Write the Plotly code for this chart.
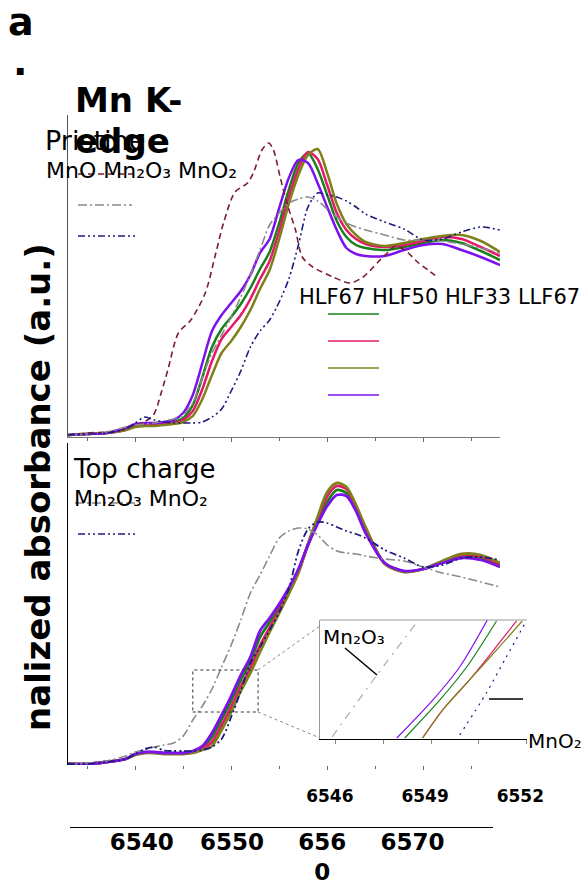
import plotly.graph_objects as go

W, H = 582, 881
FONT = "DejaVu Sans"

# ---------------- data (energy in eV, normalized absorbance) ----------------
energy = [6533, 6535, 6537, 6539, 6540, 6541, 6542, 6543, 6544, 6545, 6546, 6547,
          6548, 6549, 6550, 6551, 6552, 6553, 6554, 6555, 6556, 6557, 6558, 6559,
          6560, 6561, 6562, 6563, 6564, 6566, 6568, 6570, 6572, 6574, 6576, 6578]

# Pristine
pristine_HLF67 = [0.01, 0.015, 0.02, 0.04, 0.06, 0.065, 0.065, 0.07, 0.075, 0.095, 0.16, 0.30,
                  0.45, 0.54, 0.60, 0.665, 0.745, 0.84, 0.925, 1.07, 1.235, 1.37, 1.42, 1.34,
                  1.21, 1.08, 1.0, 0.96, 0.945, 0.935, 0.95, 0.97, 0.985, 0.97, 0.93, 0.885]
pristine_HLF50 = [0.01, 0.015, 0.02, 0.035, 0.055, 0.06, 0.06, 0.065, 0.07, 0.085, 0.13, 0.24,
                  0.38, 0.49, 0.55, 0.61, 0.69, 0.79, 0.88, 1.03, 1.20, 1.34, 1.425, 1.39,
                  1.26, 1.12, 1.035, 0.99, 0.965, 0.95, 0.96, 0.98, 1.0, 0.99, 0.95, 0.905]
pristine_HLF33 = [0.01, 0.015, 0.02, 0.035, 0.05, 0.055, 0.055, 0.06, 0.065, 0.075, 0.105, 0.19,
                  0.31, 0.42, 0.48, 0.55, 0.635, 0.74, 0.835, 0.99, 1.165, 1.31, 1.41, 1.44,
                  1.32, 1.165, 1.065, 1.01, 0.975, 0.955, 0.97, 0.99, 1.005, 1.01, 0.98, 0.925]
pristine_LLF67 = [0.01, 0.015, 0.02, 0.045, 0.065, 0.07, 0.07, 0.075, 0.085, 0.12, 0.21, 0.37,
                  0.53, 0.61, 0.67, 0.73, 0.81, 0.92, 0.99, 1.145, 1.295, 1.385, 1.37, 1.27,
                  1.15, 1.035, 0.945, 0.915, 0.905, 0.905, 0.935, 0.96, 0.965, 0.935, 0.90, 0.86]
pristine_Mn2O3 = [0.01, 0.015, 0.025, 0.05, 0.06, 0.065, 0.07, 0.08, 0.09, 0.11, 0.17, 0.30,
                  0.42, 0.51, 0.60, 0.70, 0.81, 0.935, 1.06, 1.12, 1.17, 1.19, 1.20, 1.18,
                  1.14, 1.10, 1.07, 1.05, 1.035, 1.01, 0.985, 0.985, 0.98, 0.965, 0.945, 0.92]
pristine_MnO2 = [0.01, 0.015, 0.02, 0.04, 0.07, 0.10, 0.085, 0.075, 0.07, 0.07, 0.07, 0.075,
                 0.10, 0.14, 0.23, 0.33, 0.45, 0.53, 0.585, 0.675, 0.79, 0.96, 1.15, 1.22,
                 1.21, 1.20, 1.18, 1.15, 1.115, 1.075, 1.04, 0.985, 0.99, 1.025, 1.05, 1.035]

mno_energy = [6533.0, 6535.0, 6537.1, 6538.3, 6539.3, 6540.7, 6541.9, 6542.7, 6543.4, 6544.5,
              6545.8, 6547.3, 6548.4, 6549.2, 6550.4, 6551.7, 6552.3, 6553.2, 6553.9, 6554.4,
              6555.1, 6555.8, 6556.7, 6557.4, 6558.5, 6560.6, 6562.4, 6563.75, 6565.2, 6566.25,
              6567.1, 6568.1, 6569.4, 6570.5, 6571.6]
pristine_MnO = [0.01, 0.02, 0.025, 0.03, 0.05, 0.07, 0.11, 0.22, 0.335, 0.52,
                0.585, 0.72, 0.92, 1.07, 1.225, 1.27, 1.32, 1.435, 1.47, 1.435,
                1.30, 1.17, 1.035, 0.90, 0.85, 0.80, 0.77, 0.80, 0.87, 0.92,
                0.955, 0.935, 0.875, 0.835, 0.795]

# Top charge
charged_HLF67 = [0.005, 0.005, 0.015, 0.03, 0.054, 0.063, 0.063, 0.059, 0.059, 0.059, 0.067, 0.089,
                 0.14, 0.228, 0.321, 0.426, 0.516, 0.639, 0.714, 0.792, 0.876, 0.974, 1.10, 1.215,
                 1.316, 1.375, 1.36, 1.279, 1.169, 1.009, 0.968, 0.98, 1.013, 1.041, 1.033, 0.996]
charged_HLF50 = [0.005, 0.005, 0.015, 0.03, 0.052, 0.062, 0.062, 0.057, 0.057, 0.057, 0.063, 0.081,
                 0.115, 0.198, 0.289, 0.394, 0.484, 0.597, 0.686, 0.774, 0.864, 0.966, 1.104, 1.23,
                 1.344, 1.395, 1.38, 1.291, 1.181, 1.007, 0.967, 0.98, 1.017, 1.049, 1.043, 1.004]
charged_HLF33 = [0.005, 0.005, 0.015, 0.03, 0.05, 0.06, 0.06, 0.055, 0.055, 0.055, 0.06, 0.075,
                 0.095, 0.175, 0.265, 0.37, 0.46, 0.565, 0.665, 0.76, 0.855, 0.96, 1.105, 1.24,
                 1.365, 1.41, 1.39, 1.30, 1.19, 1.005, 0.965, 0.98, 1.02, 1.055, 1.05, 1.01]
charged_LLF67 = [0.005, 0.005, 0.015, 0.03, 0.055, 0.065, 0.065, 0.06, 0.06, 0.06, 0.07, 0.095,
                 0.16, 0.25, 0.345, 0.45, 0.54, 0.67, 0.735, 0.805, 0.885, 0.98, 1.10, 1.205,
                 1.295, 1.35, 1.345, 1.27, 1.16, 1.01, 0.97, 0.98, 1.01, 1.035, 1.025, 0.99]
charged_Mn2O3 = [0.005, 0.01, 0.02, 0.045, 0.065, 0.075, 0.09, 0.10, 0.11, 0.145, 0.225, 0.295,
                 0.38, 0.49, 0.60, 0.725, 0.86, 0.95, 1.045, 1.135, 1.17, 1.185, 1.18, 1.15,
                 1.10, 1.07, 1.06, 1.055, 1.045, 1.03, 1.02, 0.99, 0.96, 0.94, 0.915, 0.89]
charged_MnO2 = [0.005, 0.005, 0.015, 0.03, 0.055, 0.08, 0.09, 0.072, 0.07, 0.07, 0.07, 0.075,
                0.09, 0.13, 0.24, 0.37, 0.51, 0.59, 0.675, 0.765, 0.88, 1.07, 1.18, 1.215,
                1.21, 1.19, 1.17, 1.155, 1.135, 1.075, 1.035, 0.99, 1.0, 1.035, 1.04, 1.025]

# Inset (zoom of top-charge edge)
inset_LLF67_e = [6547.92, 6549.05, 6549.90, 6550.77]
inset_LLF67_mu = [0.1525, 0.248, 0.3315, 0.45]
inset_HLF67_e = [6548.17, 6549.27, 6550.12, 6551.06]
inset_HLF67_mu = [0.1525, 0.248, 0.3315, 0.4475]
inset_HLF33_e = [6548.73, 6549.36, 6550.21, 6551.15, 6551.87]
inset_HLF33_mu = [0.1525, 0.223, 0.299, 0.382, 0.4475]
inset_HLF50_e = [6548.73, 6549.36, 6550.21, 6550.93, 6551.69]
inset_HLF50_mu = [0.1525, 0.223, 0.299, 0.37, 0.4475]
inset_MnO2_e = [6549.90, 6550.74, 6551.37, 6552.0]
inset_MnO2_mu = [0.160, 0.266, 0.357, 0.4475]
inset_Mn2O3_e = [6545.88, 6547.29, 6548.58]
inset_Mn2O3_mu = [0.155, 0.311, 0.4475]

main_ticklabels = ["6540", "6550", "656<br>0", "6570"]
main_tickvals = [6540, 6550, 6560, 6570]

# ---------------- styles ----------------
C_MNO, C_MN2O3, C_MNO2 = "#7b1e2e", "#8a8a8a", "#1c1c80"
C_HLF67, C_HLF50, C_HLF33, C_LLF67 = "#1a801a", "#e3196a", "#80801a", "#7f10ee"
D_MNO = "6px,4px"
D_MN2O3 = "9px,3px,2px,3px"
D_MNO2 = "7px,3px,2px,3px,2px,3px"


def px(x):
    return x / W


def py(y):
    return 1 - y / H


fig = go.Figure()


def add(x, y, color, width, dash, xa, ya):
    fig.add_trace(go.Scatter(x=x, y=y, mode="lines", xaxis=xa, yaxis=ya,
                             line=dict(color=color, width=width, dash=dash,
                                       shape="spline", smoothing=0.8),
                             showlegend=False, hoverinfo="skip"))


# top panel
add(energy, pristine_HLF67, C_HLF67, 2.5, "solid", "x", "y")
add(energy, pristine_HLF50, C_HLF50, 2.5, "solid", "x", "y")
add(energy, pristine_HLF33, C_HLF33, 2.5, "solid", "x", "y")
add(energy, pristine_LLF67, C_LLF67, 2.5, "solid", "x", "y")
add(mno_energy, pristine_MnO, C_MNO, 1.6, D_MNO, "x", "y")
add(energy, pristine_Mn2O3, C_MN2O3, 1.6, D_MN2O3, "x", "y")
add(energy, pristine_MnO2, C_MNO2, 1.6, D_MNO2, "x", "y")

# bottom panel
add(energy, charged_HLF67, C_HLF67, 2.8, "solid", "x2", "y2")
add(energy, charged_HLF50, C_HLF50, 2.8, "solid", "x2", "y2")
add(energy, charged_HLF33, C_HLF33, 2.8, "solid", "x2", "y2")
add(energy, charged_LLF67, C_LLF67, 2.8, "solid", "x2", "y2")
add(energy, charged_Mn2O3, C_MN2O3, 1.6, D_MN2O3, "x2", "y2")
add(energy, charged_MnO2, C_MNO2, 1.8, D_MNO2, "x2", "y2")

# inset
add(inset_LLF67_e, inset_LLF67_mu, C_LLF67, 1.2, "solid", "x4", "y4")
add(inset_HLF67_e, inset_HLF67_mu, C_HLF67, 1.2, "solid", "x4", "y4")
add(inset_HLF50_e, inset_HLF50_mu, C_HLF50, 1.2, "solid", "x4", "y4")
add(inset_HLF33_e, inset_HLF33_mu, C_HLF33, 1.2, "solid", "x4", "y4")
add(inset_MnO2_e, inset_MnO2_mu, C_MNO2, 1.2, "2px,5px", "x4", "y4")
add(inset_Mn2O3_e, inset_Mn2O3_mu, "#aaaaaa", 1.2, "8px,6px,2px,6px", "x4", "y4")

# axis carrying the big tick labels
fig.add_trace(go.Scatter(x=[], y=[], xaxis="x3", yaxis="y2", showlegend=False))

tickc = "#666666"
common_x = dict(range=[6533.0, 6578.0], domain=[px(68), px(500)], showgrid=False,
                zeroline=False, showticklabels=False, ticks="outside", ticklen=4,
                tickcolor=tickc, tick0=6540, dtick=10, automargin=False,
                minor=dict(dtick=5, ticks="outside", ticklen=3, tickcolor=tickc))
fig.update_layout(
    width=W, height=H, margin=dict(l=0, r=0, t=0, b=0, autoexpand=False), autosize=False,
    paper_bgcolor="white", plot_bgcolor="rgba(0,0,0,0)", showlegend=False,
    font=dict(family=FONT, color="black"),
    xaxis=dict(common_x, anchor="y", showline=True, linecolor="#777777", linewidth=1),
    yaxis=dict(domain=[py(437), py(115)], range=[0, 1.61], showgrid=False, zeroline=False,
               showticklabels=False, showline=True, linecolor="#555555", linewidth=1,
               anchor="x", automargin=False),
    xaxis2=dict(common_x, anchor="y2", showline=False),
    yaxis2=dict(domain=[py(765), py(443)], range=[0, 1.61], showgrid=False, zeroline=False,
                showticklabels=False, showline=True, linecolor="black", linewidth=1,
                anchor="x2", automargin=False),
    xaxis3=dict(domain=[px(70), px(493)], range=[6532.07, 6578.9], anchor="free",
                position=py(827), showline=True, linecolor="black", linewidth=1.2,
                showgrid=False, zeroline=False, ticks="", tickvals=main_tickvals,
                ticktext=main_ticklabels, automargin=False, ticklabelstandoff=-6,
                tickfont=dict(family=FONT, size=23, color="black", weight="bold")),
    xaxis4=dict(domain=[px(320), px(527)], range=[6545.5, 6552.02], anchor="y4",
                showline=True, linecolor="black", linewidth=1.2, showgrid=False, zeroline=False,
                ticks="outside", ticklen=4, tickcolor="#888888", tick0=6546, dtick=3,
                minor=dict(dtick=1.5, ticks="outside", ticklen=4, tickcolor="#888888"),
                tickfont=dict(family=FONT, size=17, color="black", weight="bold"),
                ticklabelstandoff=37, ticklabelshift=-6, automargin=False),
    yaxis4=dict(domain=[py(739), py(620)], range=[0.15, 0.45], anchor="x4", showgrid=False,
                zeroline=False, showticklabels=False, showline=True, linecolor="#999999",
                linewidth=1, automargin=False),
)


def hline(x0, x1, y, color, dash, width=1.6):
    return dict(type="line", xref="paper", yref="paper", x0=px(x0), x1=px(x1),
                y0=py(y), y1=py(y), line=dict(color=color, width=width, dash=dash))


def pline(x0, y0, x1, y1, color, dash="solid", width=1):
    return dict(type="line", xref="paper", yref="paper", x0=px(x0), x1=px(x1),
                y0=py(y0), y1=py(y1), line=dict(color=color, width=width, dash=dash))


shapes = [
    hline(78, 137, 174, C_MNO, D_MNO),
    hline(78, 132, 205, C_MN2O3, D_MN2O3),
    hline(78, 137, 236, C_MNO2, D_MNO2),
    hline(328, 379, 314, C_HLF67, "solid"),
    hline(328, 379, 341, C_HLF50, "solid"),
    hline(328, 379, 368, C_HLF33, "solid"),
    hline(328, 379, 395, C_LLF67, "solid"),
    hline(75, 137, 503, C_MN2O3, D_MN2O3),
    hline(78, 137, 534, C_MNO2, D_MNO2),
    # zoom box in bottom panel
    dict(type="rect", xref="x2", yref="y2", x0=6546.0, x1=6552.8, y0=0.265, y1=0.475,
         line=dict(color="#333333", width=1, dash="dot")),
    pline(258, 670, 320, 626, "#888888", "dot"),
    pline(258, 712, 320, 738, "#888888", "dot"),
    pline(320, 620, 527, 620, "#999999", "solid", 1.2),
    pline(345, 648, 377, 675, "black", "solid", 1.5),
    pline(489, 699, 523, 699, "black", "solid", 1.5),
]


def txt(s, x, y, size, bold=False, anchor="left", angle=0):
    return dict(text=("<b>%s</b>" % s) if bold else s, x=px(x), y=py(y), xref="paper",
                yref="paper", xanchor=anchor, yanchor="middle", showarrow=False,
                textangle=angle, font=dict(family=FONT, size=size, color="black"))


annotations = [
    txt("a", 6, 22, 38, True),
    txt(".", 11, 62, 38, True),
    txt("Pristine", 43, 140, 27),
    txt("Mn K-", 73, 100, 34, True),
    txt("edge", 73, 141, 34, True),
    txt("MnO Mn₂O₃ MnO₂", 44, 171, 22),
    txt("HLF67 HLF50 HLF33 LLF67", 297, 297, 21),
    txt("Top charge", 71, 469, 26),
    txt("Mn₂O₃ MnO₂", 72, 499, 22),
    txt("Mn₂O₃", 321, 637, 20),
    txt("MnO₂", 526, 741, 20),
    txt("nalized absorbance (a.u.)", 38, 487, 34, True, anchor="center", angle=-90),
]

fig.update_layout(shapes=shapes, annotations=annotations)
fig.write_html("out.html")
